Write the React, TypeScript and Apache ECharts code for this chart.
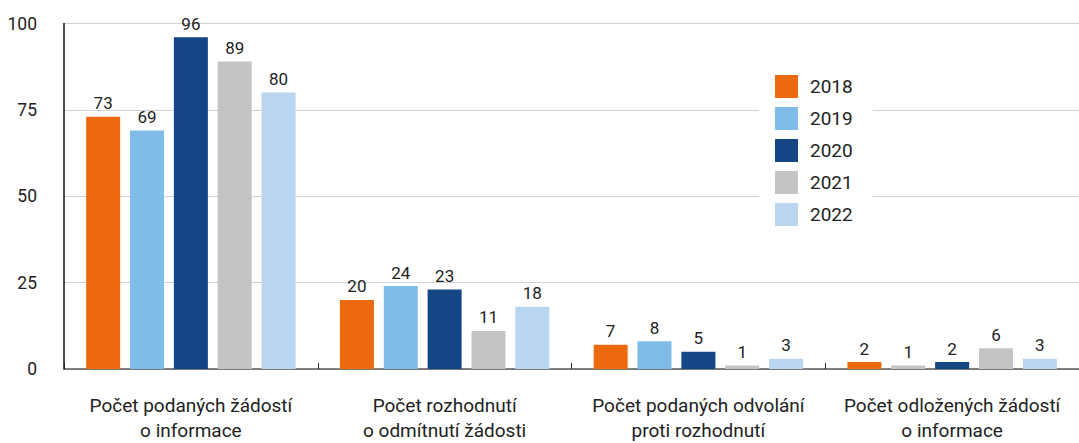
import React, { useEffect, useRef } from "react";
import * as echarts from "echarts";

const categories = [
  "Počet podaných žádostí\no informace",
  "Počet rozhodnutí\no odmítnutí žádosti",
  "Počet podaných odvolání\nproti rozhodnutí",
  "Počet odložených žádostí\no informace",
];
const years = ["2018", "2019", "2020", "2021", "2022"];
const values2018 = [73, 20, 7, 2];
const values2019 = [69, 24, 8, 1];
const values2020 = [96, 23, 5, 2];
const values2021 = [89, 11, 1, 6];
const values2022 = [80, 18, 3, 3];
const yTicks = [0, 25, 50, 75, 100];

const colors = ["#EC6A0D", "#80BCE8", "#144584", "#C4C4C4", "#BAD5EF"];
// In the reference, the 2019 bar of the last category is drawn in grey
const overrides: Record<string, Record<number, string>> = { "2019": { 3: "#C4C4C4" } };

const FONT = "Roboto, 'DejaVu Sans', sans-serif";

export default function App() {
  const ref = useRef<HTMLDivElement>(null);
  useEffect(() => {
    if (!ref.current) return;
    const chart = echarts.init(ref.current, undefined, { renderer: "svg" });
    const all = [values2018, values2019, values2020, values2021, values2022];
    chart.setOption({
      animation: false,
      textStyle: { fontFamily: FONT },
      grid: { left: 64, right: -10, top: 23.5, bottom: 67.5, containLabel: false },
      legend: {
        orient: "vertical",
        left: 759,
        top: 59,
        padding: [16, 20, 16, 16],
        backgroundColor: "#ffffff",
        itemWidth: 23,
        itemHeight: 23,
        itemGap: 9,
        icon: "rect",
        data: years,
        textStyle: { fontSize: 19, color: "#222", fontFamily: FONT, padding: [0, 0, 0, 7] },
      },
      xAxis: {
        type: "category",
        data: categories,
        axisLine: { lineStyle: { color: "#5a5a5a", width: 1.5 } },
        axisTick: { show: true, inside: true, length: 6, interval: 0, lineStyle: { color: "#222" } },
        axisLabel: {
          interval: 0,
          fontSize: 19,
          lineHeight: 25,
          color: "#222",
          margin: 24,
          fontFamily: FONT,
        },
        splitLine: { show: false },
      },
      yAxis: {
        type: "value",
        min: yTicks[0],
        max: yTicks[yTicks.length - 1],
        interval: 25,
        axisLine: { show: true, lineStyle: { color: "#111", width: 1.5 } },
        axisTick: { show: false },
        axisLabel: {
          fontSize: 17.5,
          color: "#222",
          margin: 27,
          padding: [6, 0, 0, 0],
          fontFamily: FONT,
        },
        splitLine: { lineStyle: { color: "#d0d0d0", width: 1 } },
      },
      series: years.map((y, i) => ({
        name: y,
        type: "bar",
        barWidth: 34,
        barGap: "29%",
        itemStyle: { color: colors[i] },
        label: {
          show: true,
          position: "top",
          distance: 5,
          fontSize: 17,
          color: "#222",
          fontFamily: FONT,
        },
        data: all[i].map((v, j) =>
          overrides[y] && overrides[y][j] ? { value: v, itemStyle: { color: overrides[y][j] } } : v
        ),
      })),
    });
    return () => chart.dispose();
  }, []);
  return (
    <div
      ref={ref}
      style={{ position: "fixed", left: 0, top: 0, width: 1079, height: 443, background: "#fff" }}
    />
  );
}
